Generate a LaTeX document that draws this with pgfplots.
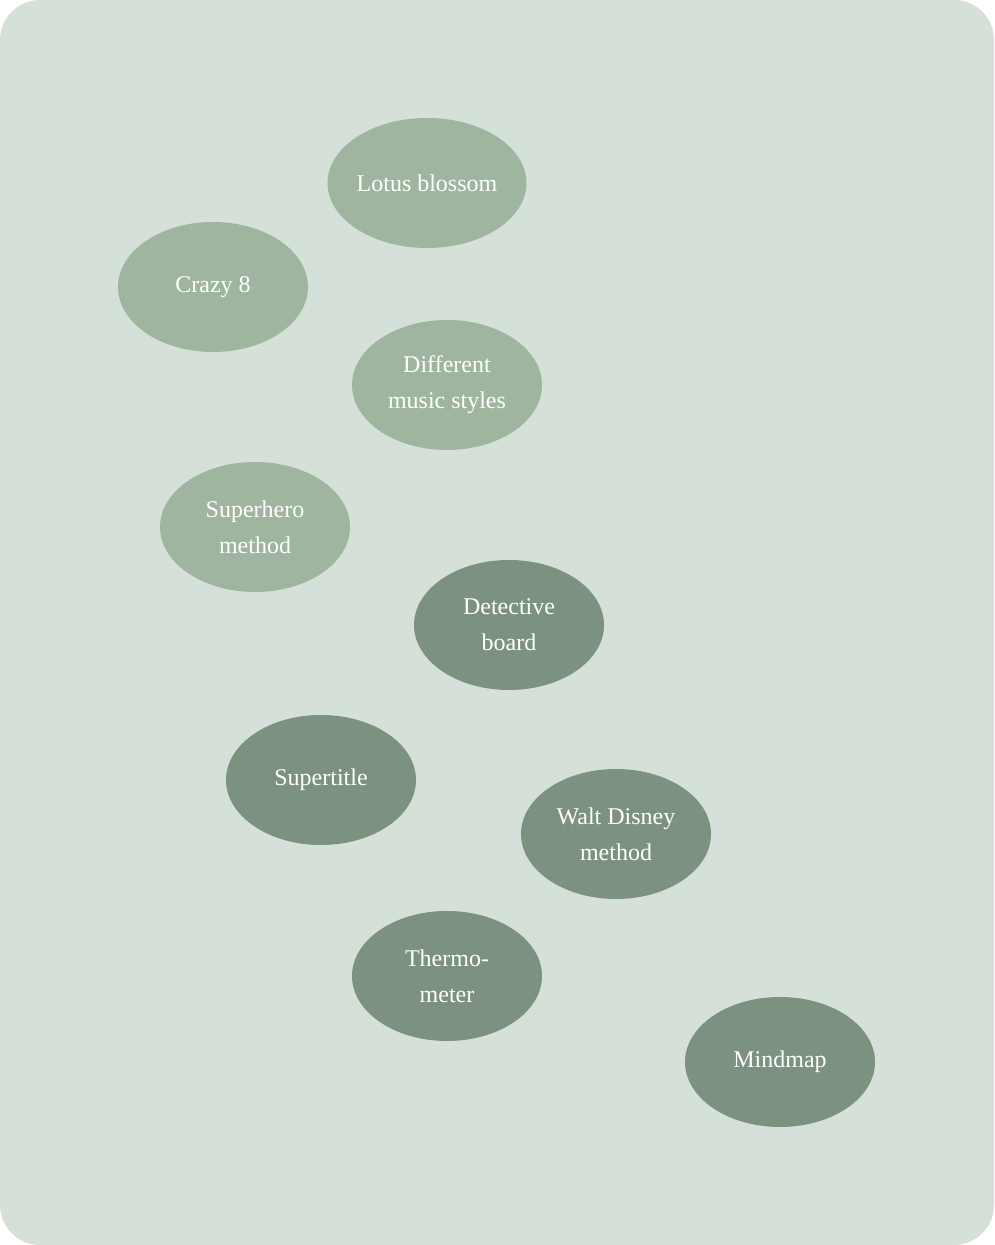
\documentclass[border=0pt]{standalone}
\usepackage{pgfplots}
\pgfplotsset{compat=1.18}
\usepackage{fontspec}
\setmainfont{Liberation Serif}
\usetikzlibrary{shapes.geometric}
\definecolor{bg}{HTML}{D5E0D8}
\definecolor{light}{HTML}{9FB5A0}
\definecolor{dark}{HTML}{7D9180}
\begin{document}
\begin{tikzpicture}
\fill[bg,rounded corners=40pt] (0,0) rectangle (994pt,1245pt);
\begin{axis}[at={(0,0)},anchor=origin,x=1pt,y=1pt,xmin=0,xmax=994,ymin=0,ymax=1245,
  hide axis,clip=false,scale only axis,
  nodes near coords,point meta=explicit symbolic,
  every node near coord/.style={anchor=center,ellipse,minimum width=190pt,minimum height=130pt,
    text=white,align=center,font=\fontsize{24}{36}\selectfont,inner sep=0pt}]
\addplot[only marks,mark=none,every node near coord/.append style={fill=light}] coordinates {
(427,1062) [Lotus blossom]
(213,958) [Crazy 8]
(447,860) [Different\\music styles]
(255,718) [Superhero\\method]
};
\addplot[only marks,mark=none,every node near coord/.append style={fill=dark}] coordinates {
(509,620) [Detective\\board]
(321,465) [Supertitle]
(616,411) [Walt Disney\\method]
(447,269) [Thermo-\\meter]
(780,183) [Mindmap]
};
\end{axis}
\end{tikzpicture}
\end{document}
